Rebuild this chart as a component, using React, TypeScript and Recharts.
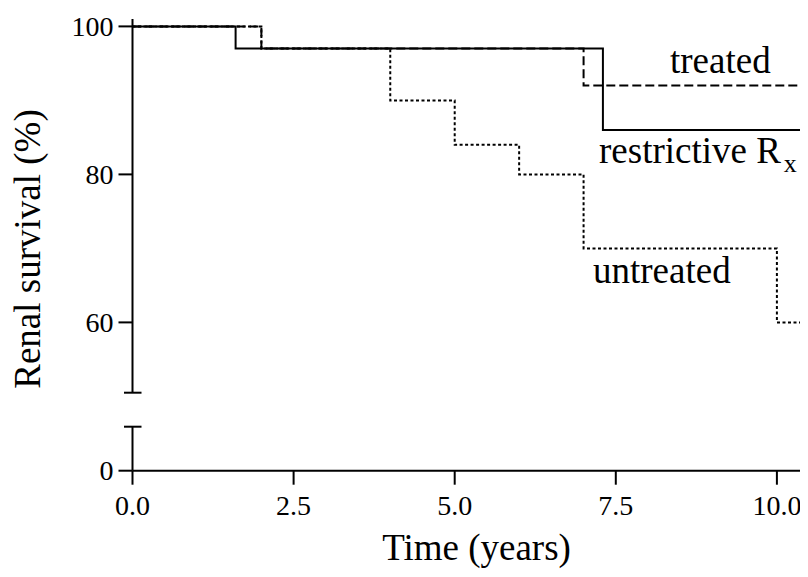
import React from 'react';
import { LineChart, Line, XAxis, YAxis } from 'recharts';

// Kaplan–Meier renal survival (%) by follow-up time (years)
const restrictiveYears = [0, 1.6, 7.3, 11];
const restrictiveSurvival = [100, 97, 86, 86];
const treatedYears = [0, 2.0, 7.0, 11];
const treatedSurvival = [100, 97, 92, 92];
const untreatedYears = [0, 2.0, 4.0, 5.0, 6.0, 7.0, 10.0, 11];
const untreatedSurvival = [100, 97, 90, 84, 80, 70, 60, 60];

const xTicks = [0, 2.5, 5, 7.5, 10, 12.5];
const xDomain: [number, number] = [0, 12.5];
// broken y axis: upper segment 50.5–101, lower segment 0–6
const upperDomain: [number, number] = [50.5, 101];
const upperTicks = [50.5, 60, 80, 100];
const lowerDomain: [number, number] = [0, 6];
const lowerTicks = [0, 6];

const toRows = (ts: number[], vs: number[]) => ts.map((t, i) => ({ t, s: vs[i] }));
const restrictiveRows = toRows(restrictiveYears, restrictiveSurvival);
const treatedRows = toRows(treatedYears, treatedSurvival);
const untreatedRows = toRows(untreatedYears, untreatedSurvival);

const FONT = '"Liberation Serif", "Times New Roman", serif';
const TICK_LEN = 14;
const TICK_GAP = 5;
const CHART_W = 958;
const AXIS_W = 132.5;
const INK = '#000';

function YTick(props: any) {
  const { x, y, payload, breakValue } = props;
  const axisX = x + TICK_LEN + TICK_GAP;
  if (payload.value === breakValue) {
    // break marker across the axis
    return <line x1={axisX - 8.5} x2={axisX + 9} y1={y} y2={y} stroke={INK} strokeWidth={2} />;
  }
  return (
    <g>
      <line x1={axisX - TICK_LEN} x2={axisX} y1={y} y2={y} stroke={INK} strokeWidth={2} />
      <text x={x} y={y} dy={9.5} textAnchor="end" fontFamily={FONT} fontSize={28} fill={INK}>
        {payload.value}
      </text>
    </g>
  );
}

function XTick(props: any) {
  const { x, y, payload } = props;
  return (
    <text x={x} y={y} dy={28} textAnchor="middle" fontFamily={FONT} fontSize={28} fill={INK}>
      {Number(payload.value).toFixed(1)}
    </text>
  );
}

// the three survival curves, shared by both axis segments
function curves() {
  return [
    <Line key="treated" data={treatedRows} dataKey="s" type="stepAfter" stroke={INK} strokeWidth={2}
      strokeDasharray="9 4" dot={false} isAnimationActive={false} />,
    <Line key="untreated" data={untreatedRows} dataKey="s" type="stepAfter" stroke={INK} strokeWidth={2}
      strokeDasharray="3 2.5" dot={false} isAnimationActive={false} />,
    <Line key="restrictive" data={restrictiveRows} dataKey="s" type="stepAfter" stroke={INK} strokeWidth={2}
      dot={false} isAnimationActive={false} />,
  ];
}

export default function App() {
  return (
    <div style={{ position: 'relative', width: 808, height: 577, overflow: 'hidden', margin: -8, background: '#fff' }}>
      {/* upper segment with the survival curves */}
      <div style={{ position: 'absolute', left: 0, top: 0 }}>
        <LineChart width={CHART_W} height={400} margin={{ top: 19, right: 20, bottom: 7.3, left: 0 }}>
          <XAxis type="number" dataKey="t" domain={xDomain} ticks={xTicks} hide allowDataOverflow />
          <YAxis
            type="number"
            domain={upperDomain}
            ticks={upperTicks}
            interval={0}
            width={AXIS_W}
            tickSize={TICK_LEN}
            tickMargin={TICK_GAP}
            tickLine={false}
            axisLine={{ stroke: INK, strokeWidth: 2 }}
            tick={(p: any) => <YTick {...p} breakValue={upperDomain[0]} />}
          />
          {curves()}
        </LineChart>
      </div>
      {/* lower segment carrying the time axis */}
      <div style={{ position: 'absolute', left: 0, top: 0 }}>
        <LineChart width={CHART_W} height={577} margin={{ top: 426.7, right: 20, bottom: 46.3, left: 0 }}>
          <XAxis
            type="number"
            dataKey="t"
            domain={xDomain}
            ticks={xTicks}
            interval={0}
            height={60}
            allowDataOverflow
            tickSize={TICK_LEN}
            tickLine={{ stroke: INK, strokeWidth: 2 }}
            axisLine={{ stroke: INK, strokeWidth: 2 }}
            tick={(p: any) => <XTick {...p} />}
          />
          <YAxis
            type="number"
            domain={lowerDomain}
            ticks={lowerTicks}
            interval={0}
            allowDataOverflow
            width={AXIS_W}
            tickSize={TICK_LEN}
            tickMargin={TICK_GAP}
            tickLine={false}
            axisLine={{ stroke: INK, strokeWidth: 2 }}
            tick={(p: any) => <YTick {...p} breakValue={lowerDomain[1]} />}
          />
          {curves()}
        </LineChart>
      </div>
      <svg width={808} height={577} style={{ position: 'absolute', left: 0, top: 0, pointerEvents: 'none' }}>
        <g fontFamily={FONT} fontSize={37} fill={INK}>
          <text transform="translate(40 249) rotate(-90)" textAnchor="middle">Renal survival (%)</text>
          <text x={476.5} y={560} textAnchor="middle">Time (years)</text>
          <text x={670} y={73}>treated</text>
          <text x={599} y={163}>
            restrictive R<tspan fontSize={26} dx={3} dy={9}>x</tspan>
          </text>
          <text x={593} y={283}>untreated</text>
        </g>
      </svg>
    </div>
  );
}
